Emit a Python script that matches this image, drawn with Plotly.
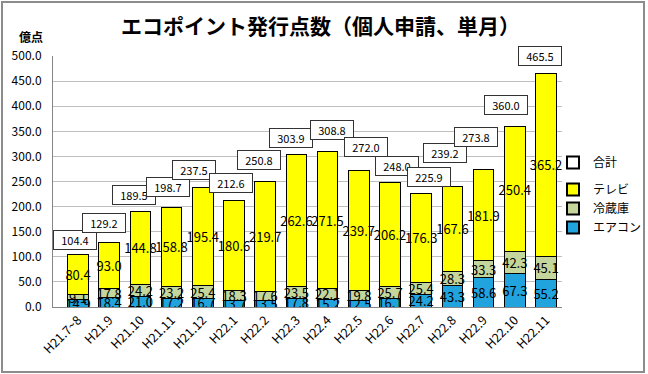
import plotly.graph_objects as go

categories = ["H21.7~8", "H21.9", "H21.10", "H21.11", "H21.12", "H22.1", "H22.2", "H22.3",
              "H22.4", "H22.5", "H22.6", "H22.7", "H22.8", "H22.9", "H22.10", "H22.11"]
aircon = [14.9, 18.4, 21.0, 17.2, 16.7, 13.7, 13.5, 17.8, 15.2, 12.5, 16.1, 24.2, 43.3, 58.6, 67.3, 55.2]
fridge = [9.1, 17.8, 24.2, 23.2, 25.4, 18.3, 17.6, 23.5, 22.1, 19.8, 25.7, 25.4, 28.3, 33.3, 42.3, 45.1]
tv = [80.4, 93.0, 144.8, 158.8, 195.4, 180.6, 219.7, 262.6, 271.5, 239.7, 206.2, 176.3, 167.6, 181.9, 250.4, 365.2]
total = [104.4, 129.2, 189.5, 198.7, 237.5, 212.6, 250.8, 303.9, 308.8, 272.0, 248.0, 225.9, 239.2, 273.8, 360.0, 465.5]

# label box offsets (pixels) as placed in the original chart
box_dx = [-3, -5, -6, -4, -9, -3, -6, -5, 4, 7, 7, 8, -7, -8, -9, -6]
box_dy = [15, 19, 17, 20, 18, 17, 21, 16, 22, 23, 17, 17, 34, 33, 21, 17]

FONT = "Noto Sans CJK JP, Liberation Sans, sans-serif"
C_AIR = "#21A3DE"
C_FRIDGE = "#C4D69C"
C_TV = "#FFFF00"

fig = go.Figure()

for name, vals, col in [("エアコン", aircon, C_AIR), ("冷蔵庫", fridge, C_FRIDGE), ("テレビ", tv, C_TV)]:
    fig.add_trace(go.Bar(
        x=categories, y=vals, name=name, showlegend=False,
        marker=dict(color=col, line=dict(color="black", width=1)),
        text=[f"{v:.1f}" for v in vals], textposition="inside",
        insidetextanchor="middle", constraintext="none", textangle=0,
        textfont=dict(size=13, color="black", family=FONT),
        hoverinfo="skip",
    ))

# legend entries
legend_items = [("合計", "white", "g1"), ("テレビ", C_TV, "g2"), ("冷蔵庫", C_FRIDGE, "g2"), ("エアコン", C_AIR, "g2")]
for name, col, grp in legend_items:
    fig.add_trace(go.Scatter(
        x=[None], y=[None], mode="markers", name=name, legendgroup=grp,
        marker=dict(symbol="square", size=7, color=col, line=dict(color="black", width=1)),
    ))

for i, (c, t) in enumerate(zip(categories, total)):
    fig.add_annotation(
        x=c, y=t, text=f"{t:.1f}", showarrow=False,
        xshift=box_dx[i], yshift=box_dy[i],
        width=40, height=16, borderpad=1, borderwidth=1, bordercolor="#333333",
        bgcolor="white", font=dict(size=11, color="black", family=FONT),
    )

# title and unit
fig.add_annotation(text="<b>エコポイント発行点数（個人申請、単月）</b>", xref="paper", yref="paper",
                   x=(320 - 53) / 509, y=(307 - 25) / 251, showarrow=False,
                   font=dict(size=21, color="black", family=FONT), xanchor="center", yanchor="middle")
fig.add_annotation(text="<b>億点</b>", xref="paper", yref="paper",
                   x=(31 - 53) / 509, y=(307 - 36) / 251, showarrow=False,
                   font=dict(size=12, color="black", family=FONT), xanchor="center", yanchor="middle")

# outer border
fig.add_shape(type="rect", xref="paper", yref="paper",
              x0=(2 - 53) / 509, x1=(644 - 53) / 509, y0=(307 - 372) / 251, y1=(307 - 2) / 251,
              line=dict(color="#8C8C8C", width=2), fillcolor="rgba(0,0,0,0)", layer="above")

fig.update_layout(
    width=648, height=374,
    margin=dict(l=53, r=86, t=56, b=67, autoexpand=False),
    paper_bgcolor="white", plot_bgcolor="white",
    barmode="stack", bargap=0.34,
    font=dict(family=FONT, color="black"),
    showlegend=True,
    legend=dict(xref="container", yref="container", x=553 / 648, y=1 - 148 / 374,
                xanchor="left", yanchor="top", itemwidth=30,
                traceorder="grouped", tracegroupgap=8,
                font=dict(size=12, family=FONT, color="black"), itemsizing="constant",
                bgcolor="rgba(0,0,0,0)"),
    xaxis=dict(tickangle=-45, tickfont=dict(size=12.5, family=FONT), showline=True,
               linecolor="#868686", ticks="", showgrid=False, automargin=False),
    yaxis=dict(range=[0, 500], dtick=50, tickformat=".1f", tickfont=dict(size=12, family=FONT),
               showgrid=True, gridcolor="#BFBFBF", gridwidth=1, showline=True, linecolor="#868686",
               zeroline=False, ticks="", automargin=False, ticklabelstandoff=8),
)

fig.write_html("out.html", config={"displayModeBar": False},
               post_script="document.body.style.margin='0px';document.body.style.overflow='hidden';")
